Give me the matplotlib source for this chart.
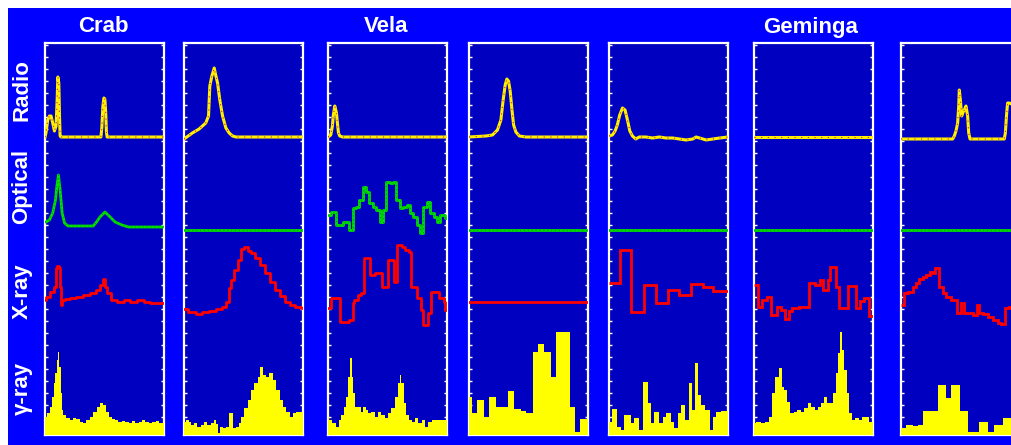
import matplotlib.pyplot as plt
import numpy as np
from matplotlib.patches import Rectangle
from matplotlib import rcParams

rcParams['font.family'] = ['Liberation Sans', 'DejaVu Sans']

# ---------------------------------------------------------------
# Pulse profiles: phase (0-1) vs intensity
# (arbitrary units, height above each band's baseline)
# ---------------------------------------------------------------

# Crab
crab_radio_phase = [0, .008, .023, .037, .051, .065, .079, .093, .102, .108, .116, .122, .127, .135,
                    .47, .478, .486, .495, .503, .51, .516, .522, 1]
crab_radio = [0, 4, 17, 21, 21, 14, 6, 11, 37, 60, 54, 21, 1, 0, 0, 10, 30, 39, 38, 25, 5, 0, 0]
crab_opt_phase = [0, .008, .037, .065, .088, .099, .113, .127, .144, .164, .193, .405, .433, .462,
                  .504, .547, .589, .646, .703, 1]
crab_opt = [8, 8, 10, 17, 30, 43, 55, 40, 17, 7, 4, 4, 8, 13, 18, 13, 8, 5, 3, 3]
crab_xray_phase = [0, .023, .065, .088, .093, .108, .122, .130, .136, .150, .178, .235, .292, .348,
                   .405, .448, .476, .496, .513, .533, .575, .632, .688, .745, .802, .858, .915, .972, 1]
crab_xray = [30, 33, 38, 43, 62, 64, 62, 43, 25, 30, 31, 32, 33, 35, 37, 40, 45, 51, 43, 37, 30, 28,
             30, 28, 30, 28, 27, 27, 27]
crab_gamma_phase = [0, .031, .051, .065, .079, .093, .108, .116, .127, .136, .144, .164, .193, .221,
                    .249, .278, .306, .334, .363, .391, .419, .448, .476, .504, .524, .547, .575, .603,
                    .632, .66, .688, .717, .745, .774, .802, .83, .858, .887, .915, .943, .972, 1]
crab_gamma = [18, 22, 28, 38, 52, 62, 75, 83, 68, 42, 25, 20, 17, 15, 17, 16, 13, 12, 15, 18, 23, 28,
              32, 30, 23, 18, 16, 15, 13, 14, 13, 12, 14, 12, 13, 15, 13, 12, 13, 14, 12, 12]

# B1509-58
b1509_radio_phase = [0, .07, .127, .183, .206, .217, .234, .254, .268, .282, .301, .324, .352, .38,
                     .408, .437, 1]
b1509_radio = [-2, 4, 8, 14, 21, 51, 61, 69, 61, 54, 37, 21, 9, 4, 1, 0, 0]
b1509_xray_phase = [0, .07, .127, .183, .239, .296, .338, .366, .389, .408, .437, .465, .493, .521,
                    .549, .577, .62, .662, .704, .746, .789, .831, .873, .915, .958, 1]
b1509_xray = [21, 18, 16, 18, 19, 21, 23, 28, 42, 50, 60, 70, 81, 83, 79, 77, 72, 65, 57, 48, 40, 34,
              28, 25, 23, 22]
b1509_gamma_phase = [0, .028, .056, .07, .099, .127, .155, .183, .211, .239, .262, .282, .296, .31,
                     .338, .366, .394, .408, .423, .451, .465, .493, .521, .549, .577, .606, .634, .648,
                     .676, .704, .732, .761, .789, .817, .845, .873, .901, .93, .958, 1]
b1509_gamma = [13, 15, 13, 10, 12, 8, 10, 13, 10, 12, 15, 11, 2, 8, 7, 8, 22, 22, 7, 8, 12, 18, 27,
               35, 45, 52, 58, 68, 60, 58, 62, 55, 45, 35, 28, 23, 18, 22, 23, 23]

# Vela
vela_radio_phase = [0, .023, .037, .045, .057, .071, .079, .088, .099, .122, 1]
vela_radio = [0, 2, 11, 22, 31, 24, 14, 4, 1, 0, 0]
vela_opt_phase = [0, .051, .079, .108, .136, .164, .193, .221, .249, .278, .306, .334, .363, .391,
                  .419, .448, .476, .504, .533, .561, .589, .618, .646, .674, .703, .731, .759, .788,
                  .816, .844, .873, .901, .929, .958, 1]
vela_opt = [15, 18, 5, 5, 8, 8, 0, 22, 23, 30, 43, 38, 27, 23, 20, 8, 20, 48, 47, 48, 30, 22, 23, 25,
            17, 13, 5, -3, 23, 28, 17, 13, 8, 15, 12]
vela_xray_phase = [0, .028, .099, .178, .207, .221, .249, .278, .3, .354, .391, .456, .504, .552,
                   .581, .618, .646, .683, .694, .751, .779, .796, .844, .867, .929, .972, .986, 1]
vela_xray = [22, 32, 8, 10, 27, 30, 35, 37, 72, 55, 57, 43, 70, 48, 85, 83, 80, 78, 43, 32, 20, 5,
             17, 38, 32, 28, 20, 20]
vela_gamma_phase = [0, .023, .051, .079, .099, .122, .144, .164, .178, .193, .207, .221, .241, .263,
                    .286, .306, .326, .348, .377, .405, .433, .462, .49, .518, .547, .575, .595, .609,
                    .626, .646, .666, .688, .717, .745, .773, .802, .83, .858, .887, .915, .943, .972, 1]
vela_gamma = [18, 15, 12, 8, 15, 20, 28, 38, 58, 77, 58, 42, 28, 28, 23, 28, 25, 22, 23, 18, 23, 20,
              17, 22, 27, 38, 52, 60, 52, 32, 20, 15, 13, 17, 12, 15, 8, 13, 15, 15, 15, 15, 15]

# B1706-44
b1706_radio_phase = [0, .141, .197, .239, .268, .287, .304, .318, .332, .346, .361, .375, .394,
                     .423, .479, 1]
b1706_radio = [0, 1, 2, 7, 17, 37, 52, 58, 56, 46, 27, 12, 5, 1, 0, 0]
b1706_xray_level = 28
b1706_gamma_edges = [0, .028, .07, .127, .169, .225, .324, .38, .437, .479, .535, .577, .634, .69,
                     .732, .845, .887, .93, 1]
b1706_gamma = [38, 22, 35, 18, 38, 28, 44, 26, 24, 22, 83, 91, 83, 58, 103, 28, 3, 16]

# B1951+32
b1951_radio_phase = [0, .028, .051, .07, .09, .113, .135, .155, .175, .197, .225, .254, .31, .366,
                     .423, .479, .535, .592, .648, .704, .732, .761, .817, .873, .93, 1]
b1951_radio = [1, 2, 6, 12, 22, 29, 27, 17, 6, 1, -2, 0, 0, -1, 0, -1, -1, -2, -3, -2, 0, -1, -3,
               -2, -1, 0]
b1951_xray_edges = [0, .09, .183, .296, .394, .493, .592, .69, .789, .873, 1]
b1951_xray = [47, 80, 18, 45, 27, 40, 35, 46, 43, 39]
b1951_gamma_edges = [0, .028, .07, .099, .127, .183, .211, .248, .282, .324, .352, .38, .423, .451,
                     .479, .521, .549, .577, .606, .642, .67, .699, .724, .746, .775, .803, .845,
                     .873, .901, .944, 1]
b1951_gamma = [13, 26, 8, 5, 20, 12, 17, 5, 53, 32, 12, 23, 12, 18, 22, 13, 7, 22, 30, 15, 52, 25,
               72, 40, 30, 25, 5, 18, 23, 24]

# Geminga
gem_xray_edges = [0, .031, .066, .109, .146, .194, .231, .26, .294, .323, .38, .466, .509, .551,
                  .58, .623, .637, .689, .717, .794, .86, .894, .923, .966, 1]
gem_xray = [45, 23, 30, 33, 15, 23, 20, 11, 19, 22, 23, 47, 45, 50, 40, 50, 63, 43, 22, 44, 22, 29,
            32, 14]
gem_gamma_phase = [0, .037, .08, .109, .137, .166, .194, .223, .243, .266, .289, .317, .351, .38,
                   .409, .437, .466, .494, .523, .551, .58, .603, .623, .651, .68, .7, .717, .734,
                   .751, .769, .786, .809, .837, .866, .894, .923, .951, .98, 1]
gem_gamma = [12, 13, 12, 13, 18, 42, 58, 67, 48, 45, 33, 22, 23, 25, 23, 27, 32, 28, 25, 28, 32, 38,
             32, 32, 42, 62, 82, 103, 85, 65, 42, 22, 15, 17, 15, 18, 18, 13, 13]

# B1055-52
b1055_radio_phase = [0, .434, .448, .462, .476, .485, .49, .499, .51, .518, .532, .546, .56, .569,
                     .58, .868, .877, .888, .896, .91, .927, 1]
b1055_radio = [-2, -2, 1, 6, 14, 31, 47, 37, 21, 24, 27, 31, 21, 4, -2, -2, 4, 24, 34, 34, 33, 30]
b1055_xray_edges = [0, .028, .056, .098, .126, .154, .182, .21, .244, .266, .289, .322, .35, .378,
                    .42, .468, .504, .532, .602, .636, .658, .686, .728, .77, .812, .84, .877, .91, 1]
b1055_xray = [25, 37, 38, 43, 47, 51, 53, 55, 58, 57, 62, 43, 37, 33, 30, 17, 27, 17, 15, 25, 17, 16,
              13, 10, 7, 6, 22, 23]
b1055_gamma_edges = [0, .042, .098, .14, .188, .308, .378, .42, .496, .56, .658, .728, .784, .854, 1]
b1055_gamma = [7, 10, 9, 10, 24, 50, 37, 50, 24, 3, 13, 3, 10, 17]

band_names = ['Radio', 'Optical', 'X-ray', 'γ-ray']
titles = ['Crab', 'Vela', 'Geminga']

# ---------------------------------------------------------------
# styling / layout (pixel units of the 1012 x 445 canvas)
# ---------------------------------------------------------------
W, H = 1012, 445
BG_BLUE = '#0000FF'
PANEL_BLUE = '#0000C0'
YELLOW = '#FFF000'
GREEN = '#00E000'
RED = '#FF0000'

RADIO_BASE, OPT_BASE, XRAY_BASE = 298, 205, 105
PANEL_LEFT = [45, 184, 328, 469, 609, 754, 901]
PANEL_W, PANEL_TOP, PANEL_BOT = 119, 43, 435


def draw_radio(ax, phase, vals):
    y = RADIO_BASE + np.asarray(vals, float)
    ax.plot(phase, y, color=YELLOW, lw=2.2, zorder=6)
    ax.plot(phase, y, color='#E02020', lw=0.8, ls=(0, (1, 5)), zorder=7)


def draw_optical(ax, phase, vals, steps=False):
    y = OPT_BASE + np.asarray(vals, float)
    ds = 'steps-mid' if steps else 'default'
    ax.plot(phase, y, color=GREEN, lw=2, drawstyle=ds, zorder=5)
    ax.plot(phase, y, color='#009000', lw=0.7, ls=(0, (1, 3)), drawstyle=ds, zorder=5)


def draw_xray(ax, x, vals, kind='mid'):
    v = XRAY_BASE + np.asarray(vals, float)
    if kind == 'edges':
        ax.stairs(v, x, baseline=None, color=RED, lw=2, zorder=4)
    else:
        ax.plot(x, v, color=RED, lw=2, drawstyle='steps-' + kind, zorder=4)


def draw_gamma(ax, x, vals, kind='mid'):
    if kind == 'edges':
        ax.stairs(vals, x, baseline=0, fill=True, color='#FFFF00', lw=0, zorder=3)
    else:
        ax.fill_between(x, 0, vals, step='mid', color='#FFFF00', lw=0, zorder=3)


fig = plt.figure(figsize=(W / 100, H / 100), dpi=100, facecolor='white')
fig.add_artist(Rectangle((8 / W, 0), 1, (H - 8) / H, transform=fig.transFigure,
                         facecolor=BG_BLUE, edgecolor='none', zorder=0))

axes = []
for left in PANEL_LEFT:
    ax = fig.add_axes([left / W, (H - PANEL_BOT) / H, PANEL_W / W, (PANEL_BOT - PANEL_TOP) / H])
    ax.set_facecolor(PANEL_BLUE)
    ax.set_xlim(0, 1)
    ax.set_ylim(0, PANEL_BOT - PANEL_TOP)
    for s in ax.spines.values():
        s.set_color('white')
        s.set_linewidth(1.6)
    ax.set_yticks(np.arange(6, PANEL_BOT - PANEL_TOP, 12))
    ax.set_xticks(np.arange(0.0125, 1, 0.025))
    ax.tick_params(axis='y', direction='in', left=True, right=True, length=2.5, width=1,
                   color='white', labelleft=False)
    ax.tick_params(axis='x', direction='in', bottom=True, length=1.5, width=1,
                   color='#D0D0FF', labelbottom=False)
    axes.append(ax)

flat = [0, 1]
zero = [0, 0]

# Crab
ax = axes[0]
draw_gamma(ax, crab_gamma_phase, crab_gamma)
draw_xray(ax, crab_xray_phase, crab_xray)
draw_optical(ax, crab_opt_phase, crab_opt)
draw_radio(ax, crab_radio_phase, crab_radio)

# B1509-58
ax = axes[1]
draw_gamma(ax, b1509_gamma_phase, b1509_gamma)
draw_xray(ax, b1509_xray_phase, b1509_xray)
draw_optical(ax, flat, zero)
draw_radio(ax, b1509_radio_phase, b1509_radio)

# Vela
ax = axes[2]
draw_gamma(ax, vela_gamma_phase, vela_gamma)
draw_xray(ax, vela_xray_phase, vela_xray, kind='post')
draw_optical(ax, vela_opt_phase, vela_opt, steps=True)
draw_radio(ax, vela_radio_phase, vela_radio)

# B1706-44
ax = axes[3]
draw_gamma(ax, b1706_gamma_edges, b1706_gamma, kind='edges')
draw_xray(ax, flat, [b1706_xray_level] * 2, kind='post')
draw_optical(ax, flat, zero)
draw_radio(ax, b1706_radio_phase, b1706_radio)

# B1951+32
ax = axes[4]
draw_gamma(ax, b1951_gamma_edges, b1951_gamma, kind='edges')
draw_xray(ax, b1951_xray_edges, b1951_xray, kind='edges')
draw_optical(ax, flat, zero)
draw_radio(ax, b1951_radio_phase, b1951_radio)

# Geminga
ax = axes[5]
draw_gamma(ax, gem_gamma_phase, gem_gamma)
draw_xray(ax, gem_xray_edges, gem_xray, kind='edges')
draw_optical(ax, flat, zero)
draw_radio(ax, flat, zero)

# B1055-52
ax = axes[6]
draw_gamma(ax, b1055_gamma_edges, b1055_gamma, kind='edges')
draw_xray(ax, b1055_xray_edges, b1055_xray, kind='edges')
draw_optical(ax, flat, zero)
draw_radio(ax, b1055_radio_phase, b1055_radio)

# titles above Crab, Vela, Geminga panels
for name, cx in zip(titles, [103, 386, 811]):
    fig.text(cx / W, 1 - 27 / H, name, color='white', fontsize=16, fontweight='bold',
             ha='center', va='center')

# band labels down the left side
for name, cy in zip(band_names, [90, 186, 291, 388]):
    fig.text(22 / W, 1 - cy / H, name, color='white', fontsize=16, fontweight='bold',
             rotation=90, ha='center', va='center')

plt.savefig('out.png', dpi=100, facecolor=fig.get_facecolor())
